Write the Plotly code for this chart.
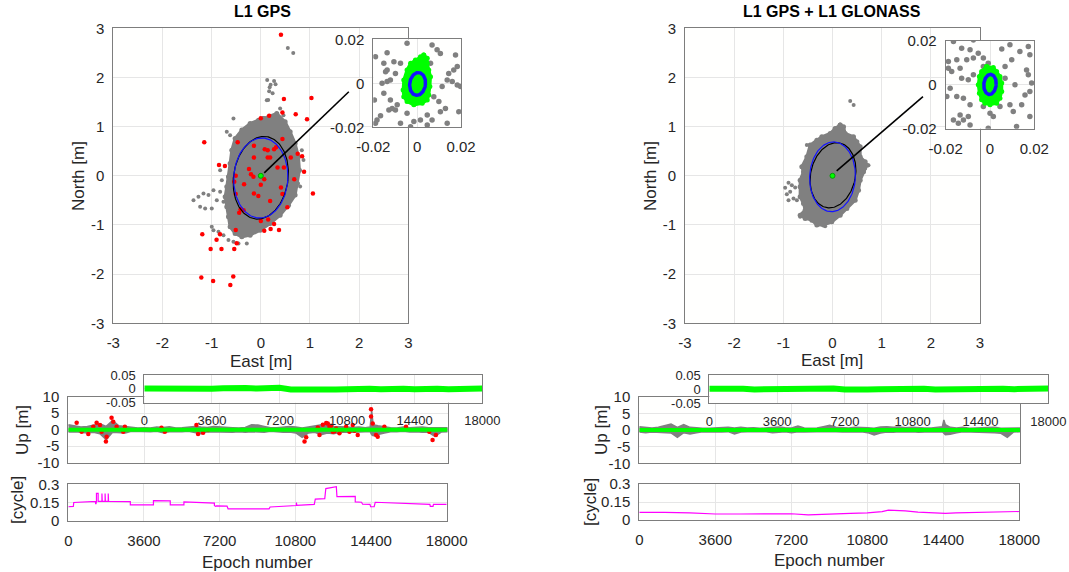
import numpy as np
import plotly.graph_objects as go

W, H = 1069, 572
FONT = "Liberation Sans, Arial, Helvetica, sans-serif"
GRAY = "rgb(128,128,128)"
RED = "rgb(255,0,0)"
GREEN = "rgb(0,255,0)"
BLUE = "rgb(20,20,255)"
MAGENTA = "rgb(255,0,255)"
FRAME = "rgb(125,125,125)"
GRID = "rgb(230,230,230)"
TICK = "rgb(38,38,38)"

# ------------------------------------------------------------------ DATA
# tick labels
main_ticks = [-3, -2, -1, 0, 1, 2, 3]
main_ticktext = ["-3", "-2", "-1", "0", "1", "2", "3"]
inset_ticks = [-0.02, 0, 0.02]
inset_ticktext = ["-0.02", "0", "0.02"]
epoch_ticks = [0, 3600, 7200, 10800, 14400, 18000]
epoch_ticktext = ["0", "3600", "7200", "10800", "14400", "18000"]
up_ticks = [-10, -5, 0, 5, 10]
up_ticktext = ["-10", "-5", "0", "5", "10"]
east_ticks = [-0.05, 0, 0.05]
east_ticktext = ["-0.05", "0", "0.05"]
cyc_ticks = [0, 0.15, 0.3]
cyc_ticktext = ["0", "0.15", "0.3"]

# ---- L1 GPS horizontal scatter (East, North) [m]
gps_cloud_e = [0.054, 0.325, 0.495, 0.597, 0.698, 0.766, 0.786, 0.746, 0.698, 0.563, 0.393, 0.190,
               -0.014, -0.217, -0.386, -0.522, -0.624, -0.658, -0.692, -0.725, -0.692, -0.658,
               -0.624, -0.590, -0.522, -0.386, -0.217, -0.047]
gps_cloud_n = [1.166, 1.268, 1.098, 0.895, 0.658, 0.386, 0.115, -0.156, -0.393, -0.597, -0.800, -0.969,
               -1.105, -1.207, -1.241, -1.173, -1.037, -0.834, -0.631, -0.427, -0.224, -0.020,
               0.251, 0.522, 0.759, 0.929, 1.064, 1.132]
gps_sparse_e = [-1.369, -1.268, -1.166, -1.064, -0.963, -0.827, -1.234, -1.132, -0.997, -0.895, -0.759,
                -0.963, -0.861, -0.759, -0.658, -0.556, -0.454, -0.285, -0.997, -0.692, -0.624, -0.556,
                0.393, 0.461, 0.122, -0.827, -0.793, 0.800, 0.868, 0.834,
                0.13, 0.20, 0.30, 0.17, 0.24, 0.15, 0.55, 0.66, 0.18, 0.27]
gps_sparse_n = [-0.495, -0.427, -0.359, -0.393, -0.292, -0.325, -0.631, -0.664, -0.664, -0.495, -0.529,
                -1.105, -1.139, -1.207, -1.308, -1.342, -1.376, -1.376, -1.037, 0.895, 0.827, 1.166,
                1.369, 1.234, 1.539, 0.115, -0.088, -0.220, 0.319, 0.522,
                1.95, 1.85, 1.86, 1.72, 1.68, 1.54, 2.60, 2.50, 1.80, 1.93]
gps_red_e = [0.41, 0.47, 1.03, 0.94, 0.71, 0.44, 0.17, 0.00, -1.15, -0.85, -0.73, -0.47, -0.14, 0.08,
             0.14, 0.27, 0.31, 0.44, -0.14, 0.14, 0.19, 0.34, 0.61, 0.75, 0.84, 0.88, 1.06, 0.68, 0.47,
             -0.24, -0.20, -0.15, 0.00, 0.07, -0.51, -0.54, -0.51, -0.34, -0.14, -0.05, 0.19, 0.41,
             0.44, 0.54, -0.41, -0.44, -0.35, 0.00, 0.15, 0.07, 0.20, 0.37, 0.27, -0.51, -0.83, -1.19,
             -0.90, -0.80, -1.02, -0.54, -0.49, -1.21, -0.97, -0.56, -0.62]
gps_red_n = [2.87, 1.56, 1.58, 1.15, 1.25, 1.29, 1.22, 1.17, 0.68, 0.22, 0.20, 0.68, 0.61, 0.54,
             0.52, 0.54, 0.58, 0.75, 0.37, 0.37, 0.37, 0.17, 0.37, 0.45, 0.40, 0.08, -0.36, -0.07, 0.17,
             0.14, 0.03, -0.02, -0.18, -0.07, 0.00, -0.12, -0.37, -0.17, -0.36, -0.41, -0.51, -0.24,
             -0.37, -0.64, -0.68, -0.75, -0.70, -0.92, -0.89, -1.12, -1.08, -1.10, -0.98, -1.10, -1.19, -1.19,
             -1.30, -1.49, -1.49, -1.49, -1.37, -2.07, -2.14, -2.05, -2.22]
# error ellipses: (centre e, centre n, semi-axis e, semi-axis n, tilt deg)
gps_ell_black = [0.0, -0.04, 0.555, 0.845, 8.0]
gps_ell_blue = [0.0, -0.045, 0.55, 0.815, 3.0]
gps_pointer = [[0.07, 1.79], [0.06, 1.71]]

# ---- L1 GPS zoom inset
gps_in_gray_e = [-0.0190, -0.0137, -0.0106, -0.0076, -0.0046, 0.0068, 0.0091, 0.0106, 0.0175, 0.0183,
                 0.0167, 0.0137, 0.0160, 0.0183, 0.0198, 0.0114, 0.0076, 0.0099, 0.0129, 0.0106, 0.0068,
                 0.0046, 0.0015, -0.0015, -0.0030, -0.0076, -0.0129, -0.0114, -0.0099, -0.0091, -0.0122,
                 -0.0152, -0.0160, -0.0137, -0.0122, -0.0144, -0.0137, -0.0099, -0.0152, -0.0183, -0.0167,
                 -0.0190, -0.0046, 0.0046, 0.0137, 0.0190, 0.0144, 0.0061, -0.0195]
gps_in_gray_n = [0.0121, 0.0139, 0.0098, 0.0091, 0.0182, 0.0174, 0.0152, 0.0136, 0.0129, 0.0076,
                 0.0061, 0.0015, 0.0008, -0.0008, -0.0015, -0.0015, -0.0061, -0.0083, -0.0114, -0.0129, -0.0167,
                 -0.0189, -0.0167, -0.0174, -0.0197, -0.0182, -0.0121, -0.0114, -0.0121, -0.0098, -0.0076,
                 -0.0045, 0.0000, 0.0008, 0.0015, 0.0053, 0.0061, 0.0045, 0.0091, -0.0167, -0.0148,
                 -0.0182, -0.0136, -0.0144, -0.0182, -0.0129, 0.0045, 0.0091, -0.0076]
gps_in_green_e = [0.0030, 0.0046, 0.0046, 0.0053, 0.0061, 0.0058, 0.0053, 0.0046, 0.0023, -0.0015,
                  -0.0046, -0.0061, -0.0064, -0.0061, -0.0046, -0.0030, -0.0008, 0.0015]
gps_in_green_n = [0.0129, 0.0114, 0.0091, 0.0061, 0.0030, -0.0015, -0.0053, -0.0076, -0.0091, -0.0098,
                  -0.0083, -0.0061, -0.0030, 0.0015, 0.0061, 0.0091, 0.0106, 0.0121]
gps_in_ell = [0.0002, -0.0003, 0.0036, 0.0052, 8.0]

# ---- L1 GPS + L1 GLONASS horizontal scatter
glo_cloud_e = [0.156, 0.224, 0.258, 0.427, 0.495, 0.563, 0.563, 0.664, 0.698, 0.631, 0.563, 0.529,
               0.461, 0.292, 0.156, -0.014, -0.183, -0.319, -0.420, -0.556, -0.658, -0.556, -0.590,
               -0.658, -0.658, -0.658, -0.590, -0.624, -0.522, -0.454, -0.319, -0.217, -0.047, 0.054]
glo_cloud_n = [1.031, 0.997, 0.861, 0.793, 0.692, 0.590, 0.386, 0.285, 0.217, 0.081, -0.088, -0.292,
               -0.495, -0.664, -0.800, -0.936, -1.003, -1.003, -0.902, -0.868, -0.800, -0.698, -0.563,
               -0.427, -0.224, -0.088, 0.081, 0.183, 0.386, 0.624, 0.725, 0.793, 0.861, 0.963]
glo_sparse_e = [-0.963, -0.895, -0.827, -0.861, -0.929, -0.759, -0.793, -0.725, -0.895, -0.522,
                0.36, 0.43, -0.658, -0.149, 0.732, 0.664]
glo_sparse_n = [-0.244, -0.142, -0.190, -0.325, -0.373, -0.237, -0.461, -0.495, -0.495, 0.624,
                1.52, 1.44, -0.834, -1.024, 0.217, 0.149]
glo_ell_black = [0.01, 0.01, 0.455, 0.67, 12.0]
glo_ell_blue = [0.0, -0.02, 0.465, 0.71, 3.0]
glo_pointer = [[0.085, 1.84], [0.10, 1.61]]

glo_in_gray_e = [-0.0165, -0.0075, -0.0128, -0.0090, -0.0053, -0.0030, -0.0008, -0.0075, -0.0105,
                 -0.0150, -0.0188, -0.0188, -0.0173, -0.0135, -0.0128, -0.0098, -0.0075, -0.0030, 0.0053,
                 0.0090, 0.0135, 0.0173, 0.0180, 0.0098, 0.0068, 0.0068, 0.0113, 0.0165, 0.0173, 0.0188,
                 0.0180, 0.0158, 0.0143, 0.0090, 0.0045, 0.0015, 0.0000, -0.0030, -0.0090, -0.0120,
                 -0.0150, -0.0180, -0.0195, -0.0135, -0.0098, -0.0120, -0.0143, -0.0090, -0.0008, 0.0180,
                 0.0105, 0.0120, -0.0165]
glo_in_gray_n = [0.0198, 0.0205, 0.0167, 0.0160, 0.0144, 0.0122, 0.0099, 0.0122, 0.0114, 0.0114,
                 0.0106, 0.0076, 0.0061, 0.0076, 0.0030, 0.0023, 0.0046, 0.0084, 0.0164, 0.0183, 0.0152,
                 0.0175, 0.0137, 0.0114, 0.0084, 0.0030, 0.0000, 0.0068, 0.0046, 0.0008, -0.0030,
                 -0.0046, -0.0091, -0.0091, -0.0099, -0.0144, -0.0129, -0.0099, -0.0091, -0.0061, -0.0053,
                 -0.0015, -0.0053, -0.0137, -0.0144, -0.0160, -0.0175, -0.0183, -0.0198, -0.0144, -0.0122,
                 -0.0190, -0.0160]
glo_in_green_e = [-0.0015, 0.0015, 0.0030, 0.0045, 0.0053, 0.0053, 0.0045, 0.0030, 0.0000, -0.0023,
                  -0.0038, -0.0048, -0.0053, -0.0048, -0.0038]
glo_in_green_n = [0.0084, 0.0079, 0.0061, 0.0038, 0.0008, -0.0030, -0.0061, -0.0084, -0.0091, -0.0084,
                  -0.0068, -0.0038, 0.0000, 0.0038, 0.0061]
glo_in_ell = [0.0, 0.0002, 0.0028, 0.0046, 5.0]

# ---- Up component time series [m]
up_epoch = [0, 300, 600, 900, 1200, 1500, 1800, 2100, 2400, 2700, 3000, 3300, 3600, 3900, 4200, 4500,
            4800, 5100, 5400, 5700, 6000, 6300, 6600, 6900, 7200, 7500, 7800, 8100, 8400, 8700, 9000,
            9300, 9600, 9900, 10200, 10500, 10800, 11100, 11400, 11700, 12000, 12300, 12600, 12900,
            13200, 13500, 13800, 14100, 14330, 14400, 14470, 14700, 15000, 15300, 15600, 15900, 16200,
            16500, 16800, 17100, 17400, 17700, 18000]
gps_up_hi = [1.5, 1.2, 0.8, 1.0, 1.5, 1.8, 1.0, 2.8, 1.2, 1.0, 0.6, 0.5, 0.6, 0.5, 0.8, 0.7,
             0.9, 0.5, 0.6, 0.8, 1.0, 0.8, 0.7, 1.0, 0.8, 0.8, 0.6, 0.5, 0.7, 1.5, 1.4,
             1.0, 0.6, 0.6, 0.7, 1.0, 0.8, 0.5, 0.8, 1.2, 1.5, 1.8, 1.0, 1.0,
             0.8, 0.7, 0.8, 0.6, 0.8, 5.8, 1.5, 1.2, 0.8, 0.6, 0.5, 0.8, 0.6,
             0.7, 0.8, 0.6, 0.6, 0.5, 0.6]
gps_up_lo = [-0.7, -0.6, -0.8, -1.0, -0.8, -1.2, -3.0, -0.8, -0.9, -1.0, -0.5, -0.6, -0.5, -0.6, -0.5, -0.9,
             -0.6, -0.5, -0.6, -0.5, -0.8, -1.2, -0.6, -0.5, -0.6, -0.7, -0.8, -0.6, -0.8, -0.6, -0.7,
             -0.8, -0.5, -0.6, -0.8, -0.7, -1.0, -2.3, -1.0, -0.8, -1.5, -1.0, -1.2, -0.8,
             -0.7, -0.8, -0.8, -0.6, -0.6, -1.5, -1.8, -1.5, -1.0, -0.6, -0.6, -0.5, -0.7,
             -0.6, -0.8, -0.8, -2.0, -0.7, -0.6]
gps_up_red_t = [397, 633, 949, 1186, 1344, 1502, 1581, 1786, 1818, 2054, 2133, 2291, 2607, 2686, 4423,
                4581, 6081, 6160, 6397, 6633, 11213, 11292, 11845, 11923, 12082, 12240, 12318, 12397,
                12477, 12555, 12635, 12713, 12871, 13029, 13187, 13345, 13502, 13581, 13739, 14371,
                14371, 14450, 14608, 14687, 15003, 16029, 17134, 17292, 17450]
gps_up_red_v = [2.1, -0.6, -1.3, 0.9, 2.1, 1.4, -0.6, -3.6, -2.1, 3.6, 2.4, 0.9, -0.6, 0.9, 0.6,
                -0.6, 1.4, -1.3, -0.9, -0.1, -3.6, -2.3, 0.7, -1.6, 1.5, 2.0, 1.9, 0.9,
                1.2, -0.6, -0.5, 0.4, -1.1, -0.1, 0.9, -0.6, 1.4, -0.3, -1.6, 6.2,
                4.0, 1.9, -1.6, -2.1, 0.9, 0.9, -0.6, -3.1, -1.6]
glo_up_hi = [1.0, 0.8, 0.6, 0.8, 1.2, 1.8, 0.8, 1.6, 0.8, 0.6, 0.5, 0.5, 0.6, 0.5, 0.8, 0.6,
             0.8, 0.6, 0.7, 0.5, 0.6, 0.6, 0.9, 0.7, 0.6, 1.2, 0.6, 0.5, 0.6, 1.0, 1.4,
             0.8, 0.6, 0.6, 0.8, 0.8, 0.7, 0.5, 0.9, 1.0, 0.8, 0.9, 0.7, 0.8,
             0.6, 0.6, 0.6, 0.8, 1.0, 3.0, 1.6, 0.8, 0.6, 0.8, 0.5, 0.6, 0.7,
             0.6, 0.8, 0.5, 0.6, 0.5, 0.6]
glo_up_lo = [-0.6, -0.8, -0.6, -0.5, -0.8, -0.9, -2.2, -0.8, -1.2, -0.8, -0.5, -0.4, -0.5, -0.6, -0.5, -1.2,
             -0.6, -0.5, -0.5, -0.6, -0.5, -0.8, -0.7, -0.5, -0.8, -0.5, -0.6, -0.6, -0.5, -0.5, -0.6,
             -0.5, -0.6, -0.7, -0.6, -0.5, -0.8, -1.5, -0.9, -0.6, -0.7, -0.5, -0.6, -0.5,
             -0.7, -0.6, -0.5, -0.6, -0.5, -1.0, -1.4, -1.3, -0.8, -0.5, -0.6, -0.5, -0.6,
             -0.7, -0.8, -1.0, -2.2, -0.6, -0.5]
fixed_up = [0.0] * len(up_epoch)

# ---- East component (fixed solution) [m]
east_epoch = [0, 600, 1200, 1800, 2400, 3000, 3600, 4200, 4800, 5400, 6000, 6600, 7200, 7800, 8400,
              9000, 9600, 10200, 10800, 11400, 12000, 12600, 13200, 13800, 14400, 15000, 15600, 16200,
              16800, 17400, 18000]
gps_east = [0.001, 0.000, 0.002, 0.000, -0.001, 0.001, 0.000, 0.002, 0.004, 0.003, 0.001, 0.002,
            0.004, -0.002, -0.003, -0.001, 0.000, -0.002, -0.001, 0.001, 0.000, -0.001, 0.002, 0.000,
            -0.001, 0.001, 0.000, -0.001, 0.001, 0.000, 0.001]
glo_east = [0.001, 0.002, 0.000, 0.001, -0.001, 0.000, 0.001, 0.000, 0.002, 0.001, 0.000, 0.002,
            -0.001, -0.003, -0.001, 0.000, 0.001, -0.001, 0.000, 0.001, -0.001, 0.000, 0.002, 0.001,
            -0.001, 0.000, 0.001, 0.000, -0.001, 0.000, 0.002]

# ---- ambiguity dilution / [cycle]
gps_cyc_t = [0, 240, 260, 1300, 1300, 1320, 1340, 1340, 1420, 1420, 1600, 1600, 1615, 1615, 1750, 1750,
             1765, 1765, 1900, 1900, 1915, 1915, 2950, 2950, 4050, 4050, 4850, 4850, 5500, 5500, 6950,
             6950, 7000, 7050, 7550, 7600, 9550, 9600, 10850, 10850, 10870, 10870, 11700, 11750, 12200,
             12250, 12750, 12780, 13650, 13650, 13950, 14000, 14350, 14380, 14550, 14600, 17200, 17220,
             17350, 17370, 18000]
gps_cyc_v = [0.115, 0.118, 0.150, 0.160, 0.140, 0.140, 0.160, 0.225, 0.225, 0.160, 0.160, 0.225, 0.225,
             0.160, 0.160, 0.225, 0.225, 0.160, 0.160, 0.225, 0.225, 0.160, 0.158, 0.130, 0.130, 0.165,
             0.163, 0.130, 0.130, 0.155, 0.145, 0.125, 0.118, 0.122, 0.120, 0.098, 0.098, 0.113, 0.125,
             0.150, 0.150, 0.127, 0.135, 0.178, 0.182, 0.265, 0.280, 0.198, 0.200, 0.155, 0.152, 0.136,
             0.134, 0.115, 0.115, 0.152, 0.135, 0.118, 0.118, 0.135, 0.135]
glo_cyc_t = [0, 600, 1200, 2400, 3600, 4800, 6000, 7200, 8000, 9000, 10000, 10800, 11500, 11800, 12200,
             12600, 13200, 14000, 14500, 15000, 16000, 17000, 17500, 18000]
glo_cyc_v = [0.064, 0.066, 0.064, 0.060, 0.050, 0.050, 0.053, 0.052, 0.043, 0.046, 0.055, 0.060, 0.070,
             0.082, 0.080, 0.076, 0.066, 0.060, 0.056, 0.060, 0.063, 0.068, 0.070, 0.071]


# ------------------------------------------------------------------ HELPERS
def X(px):
    return px / W


def Y(py):
    return 1 - py / H


def ellipse(p, n=180):
    ce, cn, a, b, tilt = p
    t = np.linspace(0, 2 * np.pi, n)
    th = -np.deg2rad(tilt)
    xe, yn = a * np.cos(t), b * np.sin(t)
    return ce + xe * np.cos(th) - yn * np.sin(th), cn + xe * np.sin(th) + yn * np.cos(th)


fig = go.Figure()


def add(tr, k):
    tr.update(xaxis="x" if k == 1 else f"x{k}", yaxis="y" if k == 1 else f"y{k}",
              showlegend=False, hoverinfo="skip")
    fig.add_trace(tr)


def closed(a):
    return list(a) + [a[0]]


def scatter_panel(k, cloud_e, cloud_n, sp_e, sp_n, red_e, red_n, ell_k, ell_b, ptr):
    add(go.Scatter(x=closed(cloud_e), y=closed(cloud_n), mode="lines+markers", fill="toself",
                   fillcolor=GRAY, line=dict(color=GRAY, width=3),
                   marker=dict(color=GRAY, size=5)), k)
    add(go.Scatter(x=sp_e, y=sp_n, mode="markers", marker=dict(color=GRAY, size=4)), k)
    if red_e:
        add(go.Scatter(x=red_e, y=red_n, mode="markers", marker=dict(color=RED, size=4.5)), k)
    ex, ey = ellipse(ell_k)
    add(go.Scatter(x=ex, y=ey, mode="lines", line=dict(color="black", width=1.2)), k)
    ex, ey = ellipse(ell_b)
    add(go.Scatter(x=ex, y=ey, mode="lines", line=dict(color=BLUE, width=1.2)), k)
    add(go.Scatter(x=[0], y=[0], mode="markers",
                   marker=dict(color=GREEN, size=5, line=dict(color="rgb(0,160,0)", width=1))), k)
    add(go.Scatter(x=ptr[0], y=ptr[1], mode="lines", line=dict(color="black", width=1.6)), k)


def inset_panel(k, g_e, g_n, gr_e, gr_n, ell):
    add(go.Scatter(x=g_e, y=g_n, mode="markers", marker=dict(color=GRAY, size=5.5)), k)
    add(go.Scatter(x=closed(gr_e), y=closed(gr_n), mode="lines+markers", fill="toself",
                   fillcolor=GREEN, line=dict(color=GREEN, width=3), marker=dict(color=GREEN, size=5)), k)
    ex, ey = ellipse(ell)
    add(go.Scatter(x=ex, y=ey, mode="lines", line=dict(color=BLUE, width=3.5)), k)


def up_panel(k, hi, lo, red_t, red_v):
    add(go.Scatter(x=up_epoch + up_epoch[::-1], y=hi + lo[::-1], mode="lines", fill="toself",
                   fillcolor=GRAY, line=dict(color=GRAY, width=1.5)), k)
    if red_t:
        add(go.Scatter(x=red_t, y=red_v, mode="markers", marker=dict(color=RED, size=4.5)), k)
    add(go.Scatter(x=up_epoch, y=fixed_up, mode="lines", line=dict(color=GREEN, width=4)), k)


# ------------------------------------------------------------------ TRACES
scatter_panel(1, gps_cloud_e, gps_cloud_n, gps_sparse_e, gps_sparse_n, gps_red_e, gps_red_n,
              gps_ell_black, gps_ell_blue, gps_pointer)
inset_panel(2, gps_in_gray_e, gps_in_gray_n, gps_in_green_e, gps_in_green_n, gps_in_ell)
up_panel(3, gps_up_hi, gps_up_lo, gps_up_red_t, gps_up_red_v)
add(go.Scatter(x=east_epoch, y=gps_east, mode="lines", line=dict(color=GREEN, width=6)), 4)
add(go.Scatter(x=gps_cyc_t, y=gps_cyc_v, mode="lines", line=dict(color=MAGENTA, width=1.2)), 5)

scatter_panel(6, glo_cloud_e, glo_cloud_n, glo_sparse_e, glo_sparse_n, [], [],
              glo_ell_black, glo_ell_blue, glo_pointer)
inset_panel(7, glo_in_gray_e, glo_in_gray_n, glo_in_green_e, glo_in_green_n, glo_in_ell)
up_panel(8, glo_up_hi, glo_up_lo, [], [])
add(go.Scatter(x=east_epoch, y=glo_east, mode="lines", line=dict(color=GREEN, width=6)), 9)
add(go.Scatter(x=glo_cyc_t, y=glo_cyc_v, mode="lines", line=dict(color=MAGENTA, width=1.2)), 10)


# ------------------------------------------------------------------ AXES
def axis(domain, rng, tv, tt, anchor, size, labels=True, standoff=4):
    return dict(domain=domain, range=rng, tickmode="array", tickvals=tv, ticktext=tt,
                showticklabels=labels, anchor=anchor, showline=True, mirror=True,
                linecolor=FRAME, linewidth=1, showgrid=True, gridcolor=GRID, gridwidth=1,
                zeroline=False, ticks="", fixedrange=True, ticklabelstandoff=standoff,
                automargin=False, tickfont=dict(family=FONT, size=size, color=TICK))


layout_axes = {}
panels = [
    # k, x px range, y px range (top, bottom), xr, yr, xt, yt, font size, x labels
    (1, (113.3, 408.3), (28.3, 323.3), [-3, 3], [-3, 3], (main_ticks, main_ticktext),
     (main_ticks, main_ticktext), 15, True),
    (2, (373.3, 461.0), (39.3, 127.3), [-0.02, 0.02], [-0.02, 0.02], (inset_ticks, inset_ticktext),
     (inset_ticks, inset_ticktext), 15, True),
    (3, (68.3, 447.5), (396.7, 462.7), [0, 18000], [-10, 10], (epoch_ticks, epoch_ticktext),
     (up_ticks, up_ticktext), 15, False),
    (4, (144.3, 482.3), (375.0, 402.7), [0, 18000], [-0.05, 0.05], (epoch_ticks, epoch_ticktext),
     (east_ticks, east_ticktext), 13, True),
    (5, (68.3, 446.7), (484.3, 520.7), [0, 18000], [0, 0.3], (epoch_ticks, epoch_ticktext),
     (cyc_ticks, cyc_ticktext), 15, True),
    (6, (685.0, 980.0), (28.3, 323.3), [-3, 3], [-3, 3], (main_ticks, main_ticktext),
     (main_ticks, main_ticktext), 15, True),
    (7, (945.7, 1034.3), (41.0, 128.7), [-0.02, 0.02], [-0.02, 0.02], (inset_ticks, inset_ticktext),
     (inset_ticks, inset_ticktext), 15, True),
    (8, (639.3, 1020.0), (396.7, 463.3), [0, 18000], [-10, 10], (epoch_ticks, epoch_ticktext),
     (up_ticks, up_ticktext), 15, False),
    (9, (709.3, 1048.3), (375.0, 403.3), [0, 18000], [-0.05, 0.05], (epoch_ticks, epoch_ticktext),
     (east_ticks, east_ticktext), 13, True),
    (10, (639.3, 1019.3), (484.0, 520.0), [0, 18000], [0, 0.3], (epoch_ticks, epoch_ticktext),
     (cyc_ticks, cyc_ticktext), 15, True),
]
for k, (x0, x1), (t, b), xr, yr, xt, yt, fs, xl in panels:
    xn = "xaxis" if k == 1 else f"xaxis{k}"
    yn = "yaxis" if k == 1 else f"yaxis{k}"
    xa = "x" if k == 1 else f"x{k}"
    ya = "y" if k == 1 else f"y{k}"
    layout_axes[xn] = axis([X(x0), X(x1)], xr, xt[0], xt[1], ya, fs, labels=xl, standoff=6)
    layout_axes[yn] = axis([Y(b), Y(t)], yr, yt[0], yt[1], xa, fs, standoff=5)

fig.update_layout(template="none")
fig.update_layout(**layout_axes)

# ------------------------------------------------------------------ TEXT
ann = []


def text(s, px, py, size=17, angle=0, bold=False, color=TICK):
    ann.append(dict(text=f"<b>{s}</b>" if bold else s, x=X(px), y=Y(py), xref="paper", yref="paper",
                    showarrow=False, textangle=angle, xanchor="center", yanchor="middle",
                    font=dict(family=FONT, size=size, color=color)))


text("L1 GPS", 262, 12, size=16, bold=True, color="black")
text("L1 GPS + L1 GLONASS", 832, 12, size=16, bold=True, color="black")
text("North [m]", 78, 176, angle=-90)
text("North [m]", 650, 176, angle=-90)
text("East [m]", 261, 361)
text("East [m]", 832, 360)
text("Up [m]", 22, 430, angle=-90)
text("Up [m]", 601, 430, angle=-90)
text("[cycle]", 17, 500, angle=-90)
text("[cycle]", 590, 502, angle=-90)
text("Epoch number", 257, 562)
text("Epoch number", 829, 560)

fig.update_layout(
    width=W, height=H, margin=dict(l=0, r=0, t=0, b=0, pad=0), autosize=False,
    paper_bgcolor="white", plot_bgcolor="#fffffe",
    annotations=ann, showlegend=False, hovermode=False,
    font=dict(family=FONT, color=TICK),
)

fig.write_html("out.html", config={"displayModeBar": False, "staticPlot": True},
               post_script="document.body.style.margin='0px';document.body.style.padding='0px';")
